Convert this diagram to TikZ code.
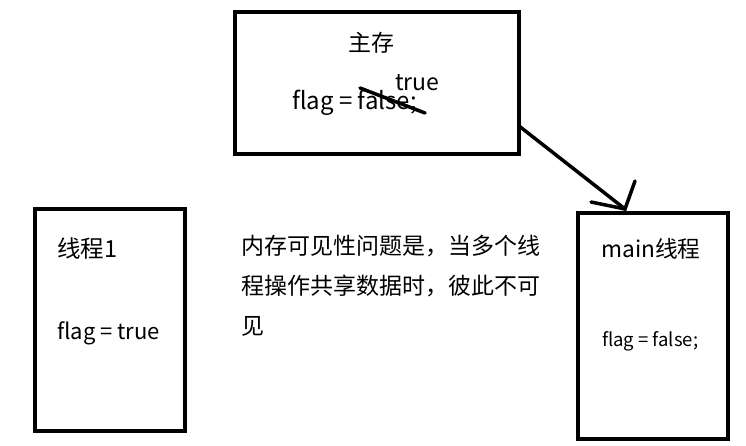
\documentclass[tikz,border=0pt]{standalone}
\usepackage{fontspec}
\setmainfont{Noto Sans CJK SC}
\begin{document}
\begin{tikzpicture}[x=1pt,y=-1pt,
  box/.style={draw=black,line width=4pt},
  txt/.style={inner sep=0pt,anchor=base west},
  pen/.style={line width=3.5pt,line cap=round}]
\useasboundingbox (0,0) rectangle (746,446);
% boxes
\draw[box] (235,12) rectangle (519,154);
\draw[box] (35,209) rectangle (185,431);
\draw[box] (578,213) rectangle (728,439);
\coordinate (mainR) at (519,126);
\coordinate (tip) at (625,209);
\coordinate (h1) at (591,202);
\coordinate (h2) at (635,181);
% texts
\node[txt,font=\fontsize{23}{27}\selectfont] (zc) at (348,52) {主存};
\node[txt,font=\fontsize{24}{28}\selectfont] (ff) at (292,110) {flag = false;};
\node[txt,font=\fontsize{23}{27}\selectfont] (tr) at (395,91) {true};
\node[txt,font=\fontsize{23.5}{27}\selectfont] (t1) at (57,257) {线程1};
\node[txt,font=\fontsize{22}{26}\selectfont] (t1f) at (57,339) {flag = true};
\node[txt,font=\fontsize{22.7}{27}\selectfont] (mt) at (601,258) {main线程};
\node[txt,font=\fontsize{18.5}{22}\selectfont] (mtf) at (602,346) {flag = false;};
\node[txt,anchor=north west,align=left,font=\fontsize{23}{40}\selectfont] (desc) at (241,235)
  {内存可见性问题是，当多个线\\程操作共享数据时，彼此不可\\见};
% strike and arrow
\coordinate (s1) at (360,88);
\coordinate (s2) at (425,113);
\draw[pen] (s1) -- (s2);
\draw[pen] (mainR) -- (tip);
\draw[pen] (h1) -- (tip) -- (h2);
\end{tikzpicture}
\end{document}
